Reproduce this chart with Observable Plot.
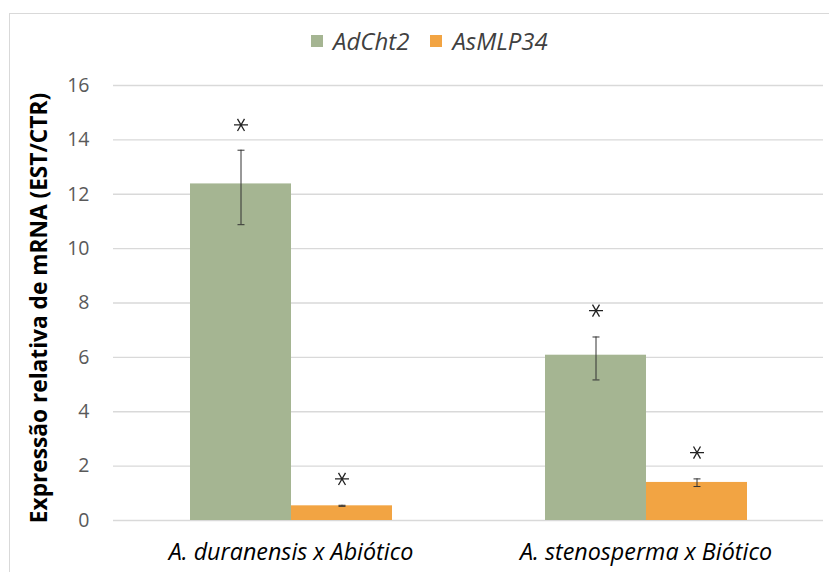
<!DOCTYPE html>
<html>
<head>
<meta charset="utf-8">
<script src="https://cdn.jsdelivr.net/npm/d3@7"></script>
<script src="https://cdn.jsdelivr.net/npm/@observablehq/plot@0.6"></script>
<style>
  html, body { margin: 0; padding: 0; background: #fff; width: 829px; height: 572px; overflow: hidden; font-family: "Open Sans", sans-serif; }
  #frame { position: absolute; left: 9px; top: 13px; width: 900px; height: 700px; border-left: 1px solid #d9d9d9; border-top: 1px solid #d9d9d9; }
  #legend { position: absolute; left: 311px; top: 24px; display: flex; align-items: center; font-style: italic; font-size: 24px; color: #404040; }
  #legend .item { display: flex; align-items: center; margin-right: 21px; }
  #legend .sw { width: 12px; height: 12px; margin-right: 10px; }
  #ylabel { position: absolute; left: 38px; top: 308px; transform: translate(-50%, -50%) rotate(-90deg); white-space: nowrap; font-weight: bold; font-size: 22.7px; color: #000; }
  #chart { position: absolute; left: 0; top: 62px; }
  g[aria-label="fx-axis tick label"] text { font-style: italic; font-size: 23.3px; fill: #000; }
  g[aria-label="y-axis tick label"] text { font-size: 19.5px; fill: #595959; }
</style>
</head>
<body>
<div id="frame"></div>
<div id="legend"></div>
<div id="ylabel">Expressão relativa de mRNA (EST/CTR)</div>
<div id="chart"></div>
<script>
const categories = ["A. duranensis x Abiótico", "A. stenosperma x Biótico"];
const series = ["AdCht2", "AsMLP34"];
const colors = ["#a5b592", "#f2a443"];
const yTicks = [0, 2, 4, 6, 8, 10, 12, 14, 16];

const adcht2Values = [12.38, 6.08];
const adcht2Low = [10.88, 5.17];
const adcht2High = [13.62, 6.75];
const adcht2Star = [14.55, 7.72];

const asmlp34Values = [0.54, 1.40];
const asmlp34Low = [0.52, 1.25];
const asmlp34High = [0.56, 1.53];
const asmlp34Star = [1.53, 2.50];

const seriesData = {
  AdCht2: {v: adcht2Values, lo: adcht2Low, hi: adcht2High, star: adcht2Star},
  AsMLP34: {v: asmlp34Values, lo: asmlp34Low, hi: asmlp34High, star: asmlp34Star}
};
const data = categories.flatMap((c, i) => series.map(s => ({
  category: c, series: s,
  value: seriesData[s].v[i], lo: seriesData[s].lo[i], hi: seriesData[s].hi[i], star: seriesData[s].star[i]
})));

// legend
const legend = document.getElementById("legend");
series.forEach((s, i) => {
  const it = document.createElement("div");
  it.className = "item";
  const sw = document.createElement("div");
  sw.className = "sw";
  sw.style.background = colors[i];
  const tx = document.createElement("span");
  tx.textContent = s;
  it.appendChild(sw); it.appendChild(tx);
  legend.appendChild(it);
});

// custom symbols
const capSymbol = {
  draw(ctx, size) {
    const r = Math.sqrt(size / Math.PI);
    ctx.moveTo(-r, 0); ctx.lineTo(r, 0);
  }
};
const starSymbol = {
  draw(ctx, size) {
    const r = Math.sqrt(size / Math.PI);
    ctx.moveTo(-r, 0); ctx.lineTo(r, 0);
    const a = Math.PI / 3;
    ctx.moveTo(-r * Math.cos(a), -r * Math.sin(a)); ctx.lineTo(r * Math.cos(a), r * Math.sin(a));
    ctx.moveTo(-r * Math.cos(a), r * Math.sin(a)); ctx.lineTo(r * Math.cos(a), -r * Math.sin(a));
  }
};

const chart = Plot.plot({
  width: 829,
  height: 510,
  marginLeft: 113,
  marginRight: 6,
  marginTop: 23,
  marginBottom: 52,
  style: {fontFamily: "'Open Sans', sans-serif", background: "transparent", overflow: "visible"},
  fx: {domain: categories, padding: 0, label: null, tickSize: 0, tickPadding: 23, axis: "bottom"},
  x: {domain: series, paddingInner: 0, paddingOuter: 0.75, axis: null},
  y: {domain: [0, 16], ticks: yTicks, tickSize: 0, tickPadding: 24, label: null, tickFormat: d3.format("d")},
  color: {domain: series, range: colors},
  marks: [
    Plot.ruleY(yTicks, {stroke: "#d9d9d9", strokeWidth: 1.3}),
    Plot.barY(data, {fx: "category", x: "series", y: "value", fill: "series"}),
    Plot.ruleX(data, {fx: "category", x: "series", y1: "lo", y2: "hi", stroke: "#333", strokeWidth: 1}),
    Plot.dot(data, {fx: "category", x: "series", y: "lo", symbol: capSymbol, r: 3.5, stroke: "#333", strokeWidth: 1}),
    Plot.dot(data, {fx: "category", x: "series", y: "hi", symbol: capSymbol, r: 3.5, stroke: "#333", strokeWidth: 1}),
    Plot.dot(data, {fx: "category", x: "series", y: "star", symbol: starSymbol, r: 7, stroke: "#222", strokeWidth: 1.3})
  ]
});
document.getElementById("chart").appendChild(chart);
</script>
</body>
</html>
